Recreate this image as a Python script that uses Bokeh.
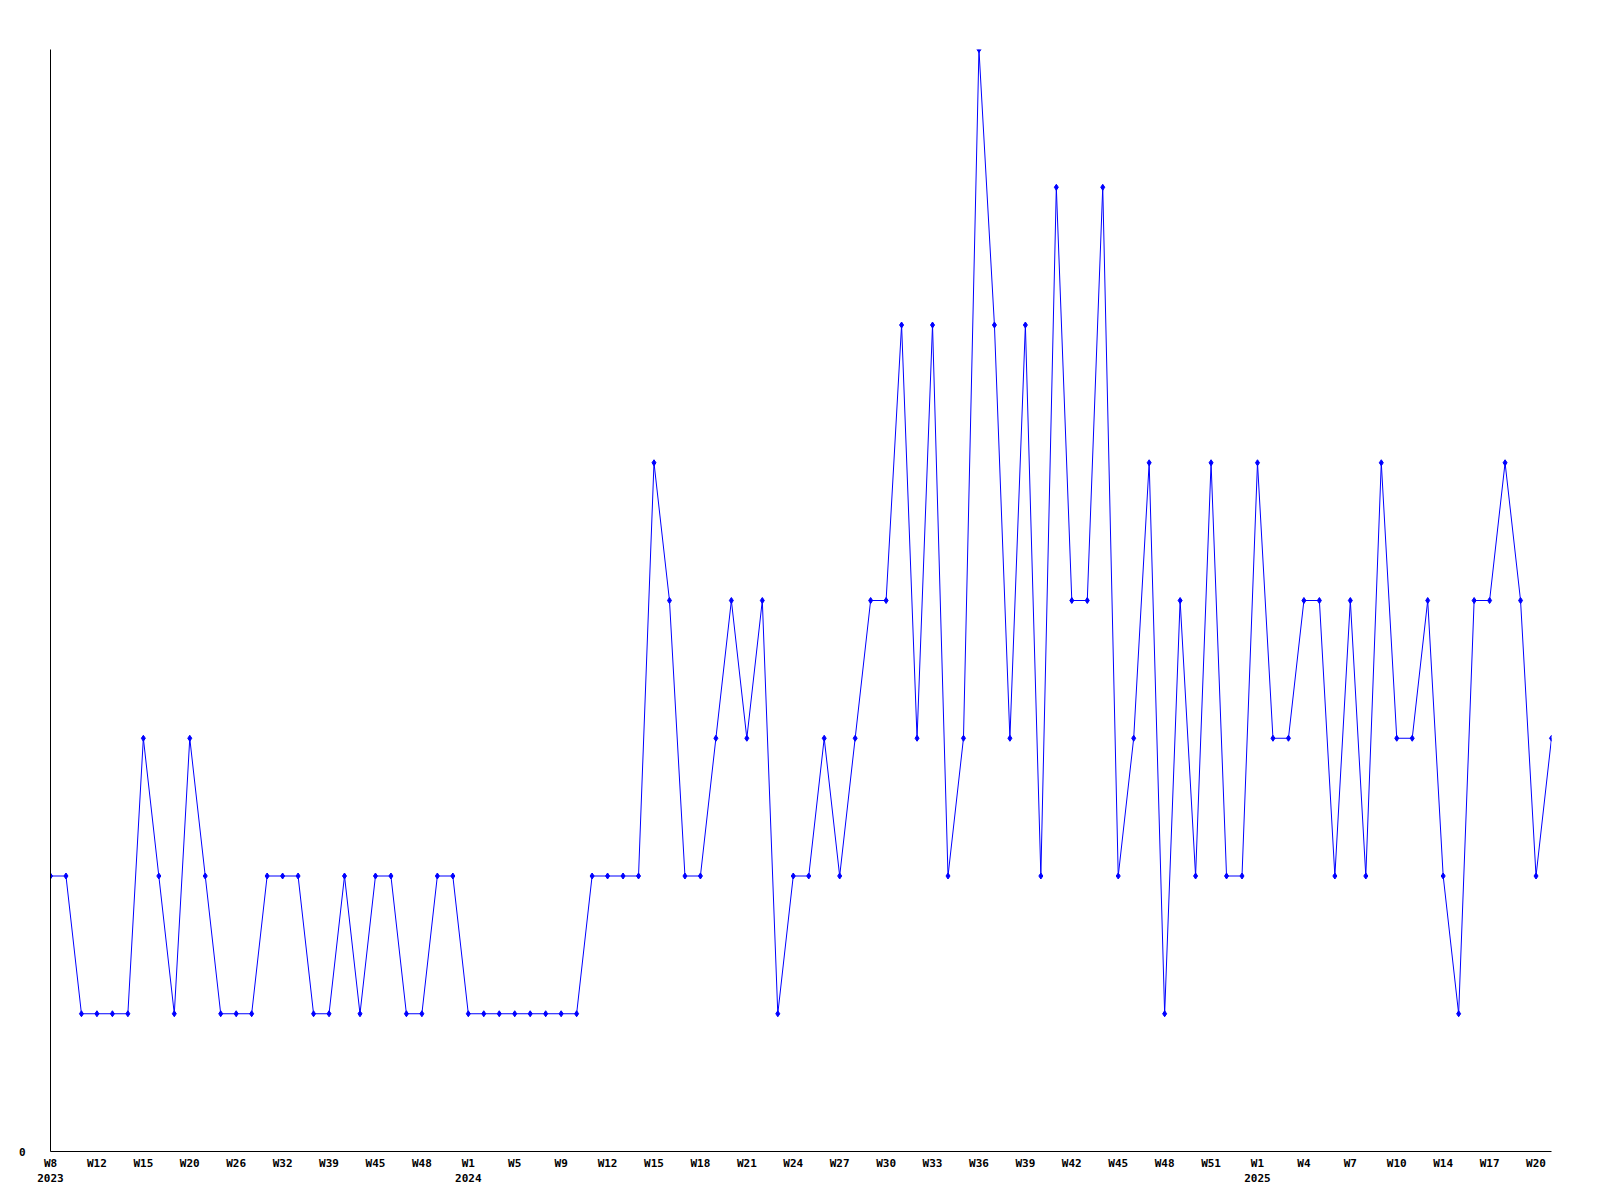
from bokeh.plotting import figure
from bokeh.models import FixedTicker, Range1d
from bokeh.embed import file_html
from bokeh.resources import INLINE

# weekly counts (one value per reported week, in order)
values = [2, 2, 1, 1, 1, 1, 3, 2, 1, 3,
          2, 1, 1, 1, 2, 2, 2, 1, 1, 2,
          1, 2, 2, 1, 1, 2, 2, 1, 1, 1,
          1, 1, 1, 1, 1, 2, 2, 2, 2, 5,
          4, 2, 2, 3, 4, 3, 4, 1, 2, 2,
          3, 2, 3, 4, 4, 6, 3, 6, 2, 3,
          8, 6, 3, 6, 2, 7, 4, 4, 7, 2,
          3, 5, 1, 4, 2, 5, 2, 2, 5, 3,
          3, 4, 4, 2, 4, 2, 5, 3, 3, 4,
          2, 1, 4, 4, 5, 4, 2, 3]

# labels shown every third week on the axis
tick_labels = ["W8\n2023", "W12", "W15", "W20", "W26", "W32", "W39", "W45", "W48",
               "W1\n2024", "W5", "W9", "W12", "W15", "W18", "W21", "W24", "W27",
               "W30", "W33", "W36", "W39", "W42", "W45", "W48", "W51",
               "W1\n2025", "W4", "W7", "W10", "W14", "W17", "W20"]
tick_step = 3

x = list(range(len(values)))
tick_pos = list(range(0, len(tick_labels) * tick_step, tick_step))

p = figure(frame_width=1501, frame_height=1102,
           min_border_left=50, min_border_top=49, min_border_right=25, min_border_bottom=33,
           x_range=Range1d(0, len(values) - 1), y_range=Range1d(0, max(values)),
           output_backend="svg", toolbar_location=None, tools="")
p.outline_line_color = None
p.xgrid.visible = False
p.ygrid.visible = False
p.background_fill_color = "white"
p.border_fill_color = "white"

p.line(x, values, line_color="#0000ff", line_width=1)
p.scatter(x, values, marker="diamond", size=6, color="#0000ff")

font = "DejaVu Sans Mono"
for ax in (p.xaxis[0], p.yaxis[0]):
    ax.axis_line_color = "black"
    ax.axis_line_width = 1
    ax.major_tick_line_color = None
    ax.minor_tick_line_color = None
    ax.major_tick_out = 0
    ax.major_tick_in = 0
    ax.minor_tick_out = 0
    ax.minor_tick_in = 0
    ax.major_label_text_font = font
    ax.major_label_text_font_style = "bold"
    ax.major_label_text_font_size = "11px"
    ax.major_label_text_color = "black"

p.xaxis[0].ticker = FixedTicker(ticks=tick_pos)
p.xaxis[0].major_label_overrides = {pos: lab for pos, lab in zip(tick_pos, tick_labels)}
p.xaxis[0].major_label_standoff = 5

p.yaxis[0].ticker = FixedTicker(ticks=[0])
p.yaxis[0].major_label_standoff = 25

open("out.html", "w").write(file_html(p, INLINE))
